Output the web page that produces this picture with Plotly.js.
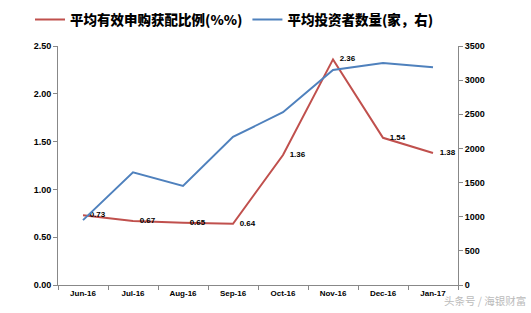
<!DOCTYPE html>
<html>
<head>
<meta charset="utf-8">
<script src="https://cdn.plot.ly/plotly-3.0.1.min.js"></script>
<style>html,body{margin:0;padding:0;background:#fff;}#chart{width:531px;height:313px;}</style>
</head>
<body>
<div id="chart"></div>
<script>
const months = ["Jun-16","Jul-16","Aug-16","Sep-16","Oct-16","Nov-16","Dec-16","Jan-17"];
const ratio = [0.73,0.67,0.65,0.64,1.36,2.36,1.54,1.38];
const investors = [950,1650,1450,2170,2530,3150,3250,3190];
const ratioName = "平均有效申购获配比例(%%)";
const investorName = "平均投资者数量(家，右)";
const leftTicks = [0,0.5,1,1.5,2,2.5];
const rightTicks = [0,500,1000,1500,2000,2500,3000,3500];

const tickFontX = {family:"Liberation Sans, Arial", size:8, color:"#000", weight:"bold"};
const tickFontY = {family:"Liberation Sans, Arial", size:9, color:"#000", weight:"bold"};

const data = [
  {x:months, y:ratio, name:ratioName, type:"scatter", mode:"lines+text",
   line:{color:"#C0504D", width:2},
   text:ratio.map(v=>"\u00a0\u00a0\u00a0" + v.toFixed(2)), textposition:"middle right",
   textfont:{family:"Liberation Sans, Arial", size:8, color:"#000", weight:"bold"},
   yaxis:"y", cliponaxis:false},
  {x:months, y:investors, name:investorName, type:"scatter", mode:"lines",
   line:{color:"#4F81BD", width:2}, yaxis:"y2"}
];

const layout = {
  width:531, height:313,
  margin:{l:58, r:73, t:46, b:28, autoexpand:false},
  paper_bgcolor:"#fff", plot_bgcolor:"#fff",
  showlegend:true,
  legend:{orientation:"h", x:-0.07, xanchor:"left", y:1.11, yanchor:"middle",
    font:{family:"Noto Sans CJK SC", size:13.5, color:"#000", weight:900},
    itemwidth:30, tracegroupgap:0, bgcolor:"rgba(0,0,0,0)"},
  xaxis:{type:"category", tickson:"boundaries", ticks:"outside", ticklen:4, tickcolor:"#888",
    showline:true, linecolor:"#888", linewidth:1, showgrid:false, zeroline:false,
    tickfont:tickFontX, range:[-0.5,7.5], fixedrange:true},
  yaxis:{range:[0,2.5], tickvals:leftTicks, tickformat:".2f", ticks:"outside", ticklen:4, tickcolor:"#888",
    showline:true, linecolor:"#888", linewidth:1, showgrid:false, zeroline:false, tickfont:tickFontY},
  yaxis2:{range:[0,3500], tickvals:rightTicks, overlaying:"y", side:"right", ticks:"outside", ticklen:4, tickcolor:"#888",
    showline:true, linecolor:"#888", linewidth:1, showgrid:false, zeroline:false, tickfont:tickFontY},
  annotations:[{xref:"paper", yref:"paper", x:1.175, y:-0.065, xanchor:"right", yanchor:"middle",
    text:"头条号 / 海银财富", showarrow:false,
    font:{family:"Noto Sans CJK SC", size:10.5, color:"#bbbbbb"}}]
};

Plotly.newPlot("chart", data, layout, {displayModeBar:false, staticPlot:true});
</script>
</body>
</html>
